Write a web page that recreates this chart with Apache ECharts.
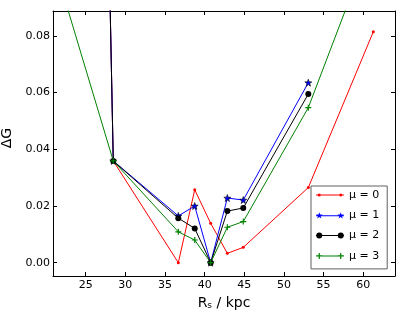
<!DOCTYPE html>
<html><head><meta charset="utf-8">
<script src="https://cdn.jsdelivr.net/npm/echarts@6/dist/echarts.min.js"></script>
<style>html,body{margin:0;padding:0;background:#fff}#c{width:408px;height:319px}</style>
</head><body><div id="c"></div>
<script>
// ---- data ----
const xTicks = [25, 30, 35, 40, 45, 50, 55, 60];
const yTicks = [0, 0.02, 0.04, 0.06, 0.08];
const seriesNames = ['μ = 0', 'μ = 1', 'μ = 2', 'μ = 3'];

const xMu0 = [21.5, 28.48, 36.68, 38.75, 40.76, 42.86, 44.87, 53.07, 61.27];
const yMu0 = [1.0, 0.0359, 0.0, 0.0257, 0.0139, 0.0033, 0.0054, 0.0265, 0.0815];

const xMu1 = [21.5, 28.48, 36.68, 38.75, 40.76, 42.86, 44.87, 53.07];
const yMu1 = [1.0, 0.0359, 0.0165, 0.0200, 0.0, 0.0228, 0.0221, 0.0635];

const xMu2 = [21.5, 28.48, 36.68, 38.75, 40.76, 42.86, 44.87, 53.07];
const yMu2 = [1.0, 0.0359, 0.0157, 0.0121, 0.0, 0.0182, 0.0193, 0.0595];

const xMu3 = [21.5, 28.48, 36.68, 38.75, 40.76, 42.86, 44.87, 53.07, 61.27];
const yMu3 = [0.101, 0.0359, 0.0109, 0.0080, 0.0, 0.0125, 0.0145, 0.0547, 0.115];

// ---- presentation ----
const pairs = (xs, ys) => xs.map((x, i) => [x, ys[i]]);
const FONT = 'DejaVu Sans';

const STAR = 'path://M5,0L6.176,3.382L9.755,3.455L6.902,5.618L7.939,9.045L5,7L2.061,9.045L3.098,5.618L0.245,3.455L3.824,3.382Z';
const PLUS = 'path://M0,4H10V6H0ZM4,0H6V10H4Z';

// legend icons (line with markers at both ends, like matplotlib)
const IW = 28, C1 = 3.25, C2 = 24.75;
function lineP(cy) { return `M0,${cy - 0.5}H${IW}V${cy + 0.5}H0Z`; }
function circ(cx, cy, r) { return `M${cx - r},${cy}A${r},${r} 0 1,1 ${cx + r},${cy}A${r},${r} 0 1,1 ${cx - r},${cy}Z`; }
function starP(cx, cy, R) {
  const r = R * 0.4; let s = '';
  for (let k = 0; k < 10; k++) {
    const a = (-90 + k * 36) * Math.PI / 180, rr = k % 2 ? r : R;
    s += (k ? 'L' : 'M') + (cx + rr * Math.cos(a)).toFixed(3) + ',' + (cy + rr * Math.sin(a)).toFixed(3);
  }
  return s + 'Z';
}
function plusP(cx, cy, s, t) {
  return `M${cx - s},${cy - t}H${cx + s}V${cy + t}H${cx - s}ZM${cx - t},${cy - s}H${cx + t}V${cy + s}H${cx - t}Z`;
}
const icons = [
  'path://' + lineP(1.5) + circ(C1, 1.5, 1.5) + circ(C2, 1.5, 1.5),
  'path://' + lineP(3.5) + starP(C1, 3.5, 3.5) + starP(C2, 3.5, 3.5),
  'path://' + lineP(3) + circ(C1, 3, 3) + circ(C2, 3, 3),
  'path://' + lineP(3) + plusP(C1, 3, 3, 0.6) + plusP(C2, 3, 3, 0.6)
];

const XMIN = 20.88, XMAX = 64.0, YMIN = -0.0047, YMAX = 0.0888;

const chart = echarts.init(document.getElementById('c'), null, { renderer: 'canvas' });
const axisCommon = {
  type: 'value',
  axisLine: { show: true, onZero: false, lineStyle: { color: '#000', width: 1 } },
  splitLine: { show: false },
};
chart.setOption({
  animation: false,
  backgroundColor: '#fff',
  textStyle: { fontFamily: FONT },
  grid: { left: 53, right: 13, top: 11, bottom: 43, containLabel: false, outerBoundsMode: 'none' },
  xAxis: [
    Object.assign({}, axisCommon, {
      min: XMIN, max: XMAX, position: 'bottom',
      axisTick: { show: true, inside: true, length: 4, customValues: xTicks, lineStyle: { color: '#000' } },
      axisLabel: { show: true, customValues: xTicks, color: '#000', fontSize: 11, fontFamily: FONT, margin: 4,
        formatter: v => String(v) },
      name: 'R{sub|s} / kpc', nameLocation: 'middle', nameGap: 13,
      nameTextStyle: { fontSize: 14, color: '#000', fontFamily: FONT,
        rich: { sub: { fontSize: 9, verticalAlign: 'bottom', padding: [6, 0, 0, 0], fontFamily: FONT, color: '#000' } } }
    }),
    Object.assign({}, axisCommon, {
      min: XMIN, max: XMAX, position: 'top',
      axisTick: { show: true, inside: true, length: 4, customValues: xTicks, lineStyle: { color: '#000' } },
      axisLabel: { show: false }
    })
  ],
  yAxis: [
    Object.assign({}, axisCommon, {
      min: YMIN, max: YMAX, position: 'left',
      axisTick: { show: true, inside: true, length: 4, customValues: yTicks, lineStyle: { color: '#000' } },
      axisLabel: { show: true, customValues: yTicks, color: '#000', fontSize: 11, fontFamily: FONT, margin: 3,
        formatter: v => v.toFixed(2) },
      name: 'ΔG', nameLocation: 'middle', nameGap: 29,
      nameTextStyle: { fontSize: 14, color: '#000', fontFamily: FONT, padding: [0, 0, 0, 11] }
    }),
    Object.assign({}, axisCommon, {
      min: YMIN, max: YMAX, position: 'right',
      axisTick: { show: true, inside: true, length: 4, customValues: yTicks, lineStyle: { color: '#000' } },
      axisLabel: { show: false }
    })
  ],
  legend: {
    orient: 'vertical', left: 311, top: 186,
    padding: [2, 8, 6, 5],
    itemWidth: IW, itemHeight: 8, itemGap: 6.3,
    symbolKeepAspect: true,
    backgroundColor: '#fff', borderColor: '#606060', borderWidth: 1, borderRadius: 0,
    textStyle: { fontSize: 11, color: '#000', fontFamily: FONT, lineHeight: 14 },
    itemStyle: { borderWidth: 0 },
    data: seriesNames.map((n, i) => ({ name: n, icon: icons[i] }))
  },
  series: [
    { name: seriesNames[0], type: 'line', data: pairs(xMu0, yMu0), color: '#ff0000',
      symbol: 'circle', symbolSize: 3, lineStyle: { width: 1 }, itemStyle: { color: '#ff0000', borderWidth: 0 } },
    { name: seriesNames[1], type: 'line', data: pairs(xMu1, yMu1), color: '#0000ff',
      symbol: STAR, symbolSize: 7, lineStyle: { width: 1 }, itemStyle: { color: '#0000ff', borderColor: '#000', borderWidth: 0.6 } },
    { name: seriesNames[2], type: 'line', data: pairs(xMu2, yMu2), color: '#000000',
      symbol: 'circle', symbolSize: 6, lineStyle: { width: 1 }, itemStyle: { color: '#000', borderWidth: 0 } },
    { name: seriesNames[3], type: 'line', data: pairs(xMu3, yMu3), color: '#008000',
      symbol: PLUS, symbolSize: 6, lineStyle: { width: 1 }, itemStyle: { color: '#008000', borderWidth: 0 } }
  ].map(s => Object.assign(s, { clip: true, emphasis: { disabled: true }, silent: true, showAllSymbol: true }))
});
</script></body></html>
